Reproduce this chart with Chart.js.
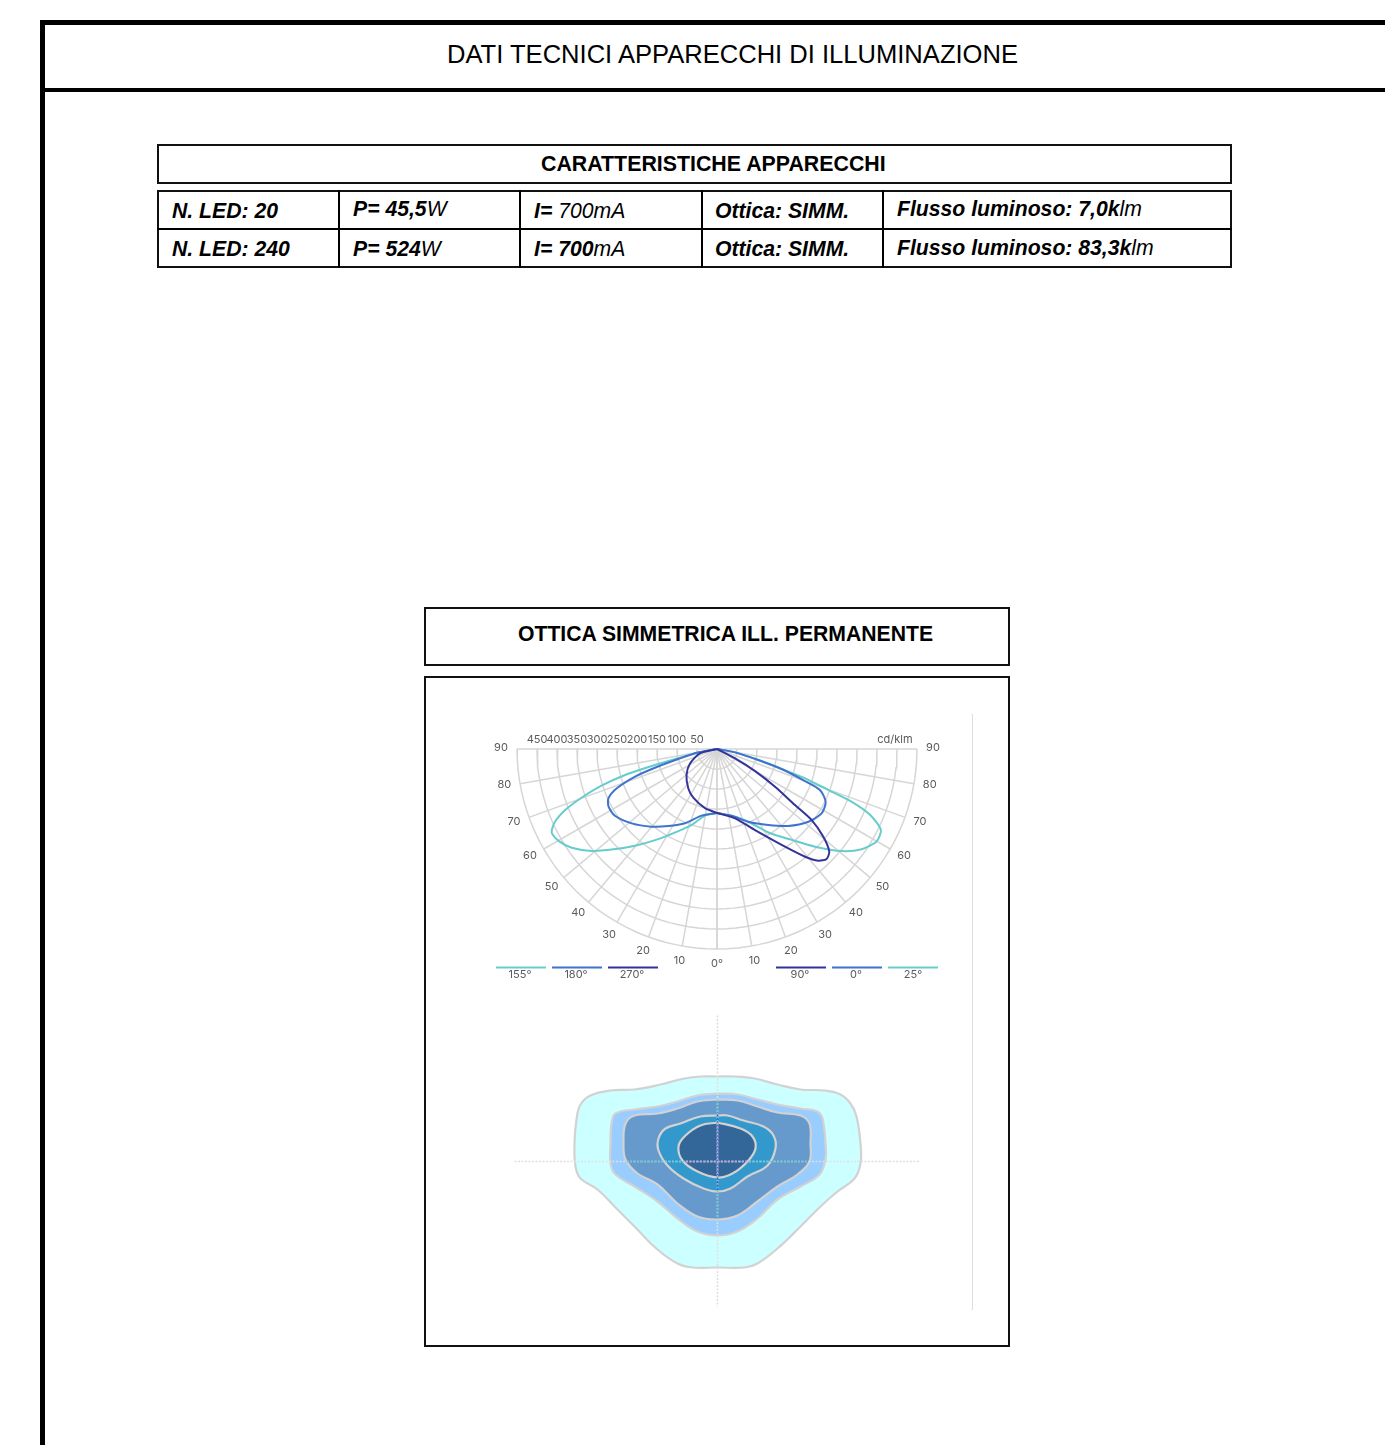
<!DOCTYPE html>
<html>
<head>
<meta charset="utf-8">
<title>DATI TECNICI APPARECCHI DI ILLUMINAZIONE</title>
<script src="https://cdn.jsdelivr.net/npm/chart.js@4/dist/chart.umd.js"></script>
<style>
    html, body { margin: 0; padding: 0; background: #fff; }
    #page { position: relative; width: 1385px; height: 1445px; overflow: hidden; font-family: "Liberation Sans", Arial, sans-serif; color: #000; }
    .bar, .box, .txt, canvas { position: absolute; }
    .bar { background: #000; }
    .box { border: 2px solid #111; box-sizing: border-box; }
    .txt { white-space: nowrap; line-height: 1; }
    .cell { font-size: 21.2px; font-weight: bold; font-style: italic; }
    .cell i { font-weight: normal; }
    .head { font-weight: bold; }
</style>
</head>
<body>
<div id="page">
    <div class="bar" style="left:40px;top:20px;width:5px;height:1425px"></div>
    <div class="bar" style="left:40px;top:20px;width:1345px;height:5px"></div>
    <div class="bar" style="left:40px;top:88px;width:1345px;height:4px"></div>
    <div class="txt" style="left:447px;top:42px;font-size:25.57px">DATI TECNICI APPARECCHI DI ILLUMINAZIONE</div>

    <div class="box" style="left:157px;top:144px;width:1075px;height:40px"></div>
    <div class="txt head" style="left:541px;top:154px;font-size:21.35px">CARATTERISTICHE APPARECCHI</div>

    <div class="box" style="left:157px;top:190px;width:1075px;height:78px"></div>
    <div class="bar" style="left:157px;top:228px;width:1075px;height:2px"></div>
    <div class="bar" style="left:338px;top:190px;width:2px;height:78px"></div>
    <div class="bar" style="left:519px;top:190px;width:2px;height:78px"></div>
    <div class="bar" style="left:701px;top:190px;width:2px;height:78px"></div>
    <div class="bar" style="left:882px;top:190px;width:2px;height:78px"></div>

    <div class="txt cell" style="left:172px;top:200px">N. LED: 20</div>
    <div class="txt cell" style="left:353px;top:198px">P= 45,5<i>W</i></div>
    <div class="txt cell" style="left:534px;top:200px">I= <i>700mA</i></div>
    <div class="txt cell" style="left:715px;top:200px">Ottica: SIMM.</div>
    <div class="txt cell" style="left:897px;top:198px">Flusso luminoso: 7,0k<i>lm</i></div>
    <div class="txt cell" style="left:172px;top:238px">N. LED: 240</div>
    <div class="txt cell" style="left:353px;top:238px">P= 524<i>W</i></div>
    <div class="txt cell" style="left:534px;top:238px">I= 700<i>mA</i></div>
    <div class="txt cell" style="left:715px;top:238px">Ottica: SIMM.</div>
    <div class="txt cell" style="left:897px;top:237px">Flusso luminoso: 83,3k<i>lm</i></div>

    <div class="box" style="left:424px;top:607px;width:586px;height:59px"></div>
    <div class="txt head" style="left:518px;top:623px;font-size:21.2px">OTTICA SIMMETRICA ILL. PERMANENTE</div>
    <div class="box" style="left:424px;top:676px;width:586px;height:671px"></div>
    <div style="position:absolute;left:972px;top:714px;width:1px;height:596px;background:#ddd"></div>

    <canvas id="polar" width="474" height="260" style="left:480px;top:725px"></canvas>
    <canvas id="isolux" width="420" height="300" style="left:507px;top:1011px"></canvas>
</div>

<script>
// polar diagram, cd/klm against gamma angle
const ringValues = [50, 100, 150, 200, 250, 300, 350, 400, 450, 500];
const ringLabels = [50, 100, 150, 200, 250, 300, 350, 400, 450];
const spokeAngles = [0, 10, 20, 30, 40, 50, 60, 70, 80, 90];

const gamma155 = [0, 10.2, 18.4, 25.2, 33.1, 40.3, 46.3, 50.9, 55.8, 59.9, 63.2, 65.8, 68.1, 70.2, 72.4, 74.2, 75.3, 76.1, 78.1, 90];
const values155 = [160, 169, 200, 227, 269, 317, 364, 404, 439, 458, 463, 444, 409, 360, 303, 239, 177, 125, 65, 0];

const gamma180 = [0, 13, 23.3, 32.3, 40.1, 48.9, 56.8, 62, 65.6, 68.6, 71.4, 73.2, 75.5, 79.9, 90];
const values180 = [160, 171, 202, 228, 254, 283, 305, 307, 298, 269, 216, 162, 100, 47, 0];

const gamma270 = [0, 11.4, 26, 36, 49.7, 62, 75.7, 90];
const values270 = [160, 151, 135, 122, 100, 76, 44, 0];

const gamma90 = [0, 14.6, 25.1, 34, 39.3, 42.2, 44.9, 47.6, 50.5, 53.1, 54.3, 57, 59.9, 62.6, 90];
const values90 = [160, 179, 224, 289, 348, 377, 388, 380, 344, 296, 240, 173, 110, 51, 0];

const gamma0 = [0, 12.4, 23.3, 34, 42.8, 51.5, 58.4, 64.1, 68.3, 70, 72.8, 75.1, 79.5, 90];
const values0 = [160, 171, 198, 229, 262, 292, 307, 302, 277, 234, 169, 107, 46, 0];

const gamma25 = [0, 12.4, 23.3, 31.6, 39.4, 45.1, 50.7, 55.3, 59.9, 63.7, 66.7, 68.6, 69.8, 71.6, 72.8, 75.1, 79.5, 90];
const values25 = [160, 171, 198, 245, 294, 346, 403, 440, 461, 457, 417, 362, 297, 232, 169, 107, 46, 0];

// isolux contours, outer to inner
const contour1X = [0, -17, -33, -57, -83, -107, -127, -137, -141, -143, -142, -137, -120, -103, -83, -60, -40, -25, 0, 27, 40, 60, 83, 103, 120, 137, 143, 143, 139, 133, 123, 107, 83, 60, 37, 17, 0];
const contour1Y = [85, 85, 83, 77, 72, 71, 66, 57, 42, 18, -5, -17, -28, -45, -65, -88, -102, -106, -106, -106, -102, -87, -65, -45, -30, -17, -2, 18, 45, 58, 67, 71, 72, 77, 83, 85, 85];
const contour2X = [0, -20, -40, -60, -83, -102, -106, -107, -107, -102, -83, -60, -40, -20, 0, 20, 40, 60, 83, 102, 108, 108, 105, 100, 83, 60, 40, 20, 0];
const contour2Y = [68, 66, 60, 55, 52, 48, 38, 18, -2, -13, -25, -40, -57, -70, -74, -70, -57, -38, -25, -13, 2, 18, 43, 50, 53, 57, 62, 67, 68];
const contour3X = [0, -20, -40, -60, -83, -92, -94, -92, -80, -60, -40, -20, 0, 20, 40, 60, 80, 92, 93, 92, 83, 60, 40, 20, 0];
const contour3Y = [62, 60, 53, 48, 46, 38, 18, 2, -12, -23, -42, -55, -58, -54, -40, -25, -13, 0, 18, 38, 46, 49, 55, 61, 62];
const contour4X = [0, -17, -37, -52, -59, -59, -50, -34, -14, 0, 13, 30, 50, 58, 56, 46, 26, 10, 0];
const contour4Y = [46, 45, 38, 33, 23, 11, -4, -17, -27, -30, -27, -15, -4, 13, 26, 35, 41, 46, 46];
const contour5X = [0, -17, -32, -39, -35, -20, 0, 15, 30, 38, 35, 23, 0];
const contour5Y = [39, 36, 26, 15, 1, -10, -16, -12, 0, 13, 25, 33, 39];

const CYAN = '#66cccc';
const BLUE = '#3f73cc';
const NAVY = '#333399';
const GRID = '#d6d6d6';
const rad = a => a * Math.PI / 180;

// side is -1 for the left half of the diagram, 1 for the right
const polarPoint = (angle, value, side) => ({
    x: side * value * Math.sin(rad(angle)),
    y: -value * Math.cos(rad(angle))
});
const curve = (gammas, values, side, color) => ({
    data: gammas.map((g, i) => polarPoint(g, values[i], side)),
    borderColor: color,
    borderWidth: 2,
    tension: 0.25,
    showLine: true,
    pointRadius: 0
});
const gridLine = data => ({ data, borderColor: GRID, borderWidth: 1.5, showLine: true, pointRadius: 0 });

const rings = ringValues.map(v => {
    const pts = [];
    for (let a = -90; a <= 90; a += 3) pts.push(polarPoint(Math.abs(a), v, Math.sign(a) || 1));
    return gridLine(pts);
});
const spokes = [];
spokeAngles.forEach(a => {
    spokes.push(gridLine([{ x: 0, y: 0 }, polarPoint(a, 500, 1)]));
    spokes.push(gridLine([{ x: 0, y: 0 }, polarPoint(a, 500, -1)]));
});

const legendItems = [
    { label: '155°', color: CYAN, from: 16, text: 40 },
    { label: '180°', color: BLUE, from: 72, text: 96 },
    { label: '270°', color: NAVY, from: 128, text: 152 },
    { label: '90°', color: NAVY, from: 296, text: 320 },
    { label: '0°', color: BLUE, from: 352, text: 376 },
    { label: '25°', color: CYAN, from: 408, text: 433 }
];

const polarText = {
    id: 'polarText',
    afterDatasetsDraw(chart) {
        const { ctx, scales: { x, y } } = chart;
        ctx.save();
        ctx.font = '11px Inter';
        ctx.fillStyle = '#5a5a5a';
        ctx.textAlign = 'center';
        ctx.textBaseline = 'middle';
        ringLabels.forEach(v => ctx.fillText(v, x.getPixelForValue(-v), y.getPixelForValue(23)));
        ctx.fillText('cd/klm', x.getPixelForValue(445), y.getPixelForValue(23));
        spokeAngles.forEach(a => {
            const right = polarPoint(a, 540, 1);
            const left = polarPoint(a, 540, -1);
            if (a === 0) {
                ctx.fillText('0°', x.getPixelForValue(0), y.getPixelForValue(right.y) - 1.5);
                return;
            }
            ctx.fillText(a, x.getPixelForValue(right.x), y.getPixelForValue(right.y) - 1.5);
            ctx.fillText(a, x.getPixelForValue(left.x), y.getPixelForValue(left.y) - 1.5);
        });
        legendItems.forEach(l => {
            ctx.strokeStyle = l.color;
            ctx.lineWidth = 2;
            ctx.beginPath();
            ctx.moveTo(l.from, 242.5);
            ctx.lineTo(l.from + 50, 242.5);
            ctx.stroke();
            ctx.fillText(l.label, l.text, 249.5);
        });
        ctx.restore();
    }
};

new Chart(document.getElementById('polar'), {
    type: 'scatter',
    data: {
        datasets: [
            curve(gamma270, values270, -1, NAVY),
            curve(gamma90, values90, 1, NAVY),
            curve(gamma180, values180, -1, BLUE),
            curve(gamma0, values0, 1, BLUE),
            curve(gamma155, values155, -1, CYAN),
            curve(gamma25, values25, 1, CYAN),
            ...rings,
            ...spokes
        ]
    },
    options: {
        responsive: false,
        animation: false,
        layout: { padding: 0 },
        plugins: { legend: { display: false }, tooltip: { enabled: false } },
        scales: {
            x: { type: 'linear', display: false, min: -592.5, max: 592.5 },
            y: { type: 'linear', display: false, min: -590, max: 60 }
        }
    },
    plugins: [polarText]
});

const contour = (xs, ys, fill) => ({
    data: xs.map((x, i) => ({ x, y: ys[i] })),
    backgroundColor: fill,
    borderColor: '#d2d2d2',
    borderWidth: 2.2,
    fill: 'shape',
    tension: 0.4,
    showLine: true,
    pointRadius: 0
});
const cross = (points, color) => ({
    data: points,
    borderColor: color,
    borderWidth: 1.5,
    borderDash: [2, 1.5],
    showLine: true,
    pointRadius: 0
});

new Chart(document.getElementById('isolux'), {
    type: 'scatter',
    data: {
        // first dataset ends up on top
        datasets: [
            cross([{ x: -32, y: 0 }, { x: 33, y: 0 }], '#cc99dd'),
            cross([{ x: 0, y: 39 }, { x: 0, y: -15 }], '#cc99dd'),
            cross([{ x: 0, y: 47 }, { x: 0, y: -29 }], '#3366cc'),
            cross([{ x: -91, y: 0 }, { x: 91, y: 0 }], CYAN),
            cross([{ x: 0, y: 62 }, { x: 0, y: -58 }], CYAN),
            cross([{ x: -203, y: 0 }, { x: 202, y: 0 }], '#e0e0e0'),
            cross([{ x: 0, y: 146 }, { x: 0, y: -145 }], '#e0e0e0'),
            contour(contour5X, contour5Y, '#336699'),
            contour(contour4X, contour4Y, '#3399cc'),
            contour(contour3X, contour3Y, '#6699cc'),
            contour(contour2X, contour2Y, '#99ccff'),
            contour(contour1X, contour1Y, '#ccffff')
        ]
    },
    options: {
        responsive: false,
        animation: false,
        layout: { padding: 0 },
        plugins: { legend: { display: false }, tooltip: { enabled: false } },
        scales: {
            x: { type: 'linear', display: false, min: -210.5, max: 209.5 },
            y: { type: 'linear', display: false, min: -149.5, max: 150.5 }
        }
    }
});
</script>
</body>
</html>
